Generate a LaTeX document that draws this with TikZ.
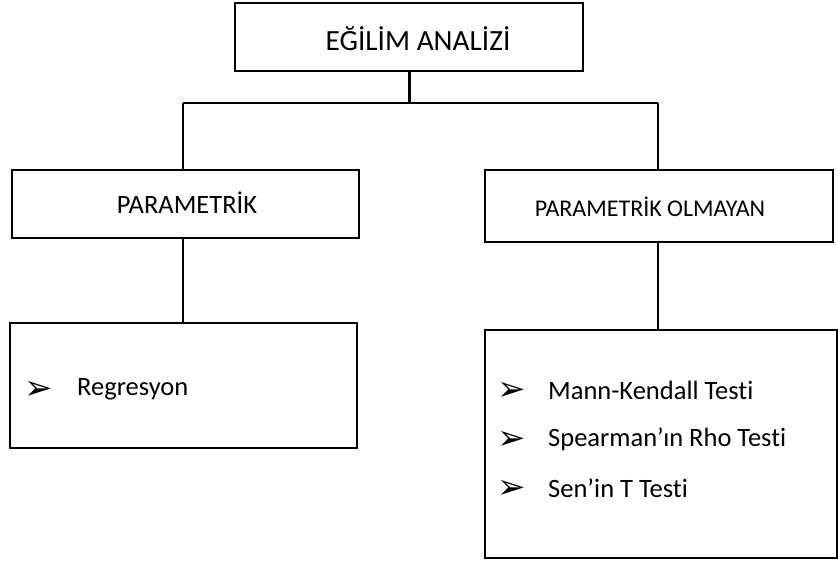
\documentclass[tikz,border=0pt]{standalone}
\usepackage{fontspec}
\setmainfont{Carlito}[Ligatures=NoCommon]
\newfontfamily\bulfont{DejaVu Sans}
\tikzset{
  box/.style={draw, line width=2pt, rectangle, inner sep=0pt},
  conn/.style={draw, line width=1.4pt},
  title/.style={font=\fontsize{29.3}{34}\selectfont},
  lbl/.style={font=\fontsize{26.5}{30}\selectfont},
  lbls/.style={font=\fontsize{24}{28}\selectfont},
  itm/.style={font=\fontsize{26.5}{30}\selectfont, anchor=west, inner sep=0pt},
  bul/.style={font=\bulfont\fontsize{34}{38}\selectfont, anchor=center, inner sep=0pt}
}
\begin{document}
\begin{tikzpicture}[x=1pt,y=-1pt]
\useasboundingbox (0,0) rectangle (838,560);
% boxes
\node[box, minimum width=348pt, minimum height=68pt] (top) at (409,37) {};
\node[title] (toptxt) at (418,39) {EĞİLİM ANALİZİ};
\node[box, minimum width=347pt, minimum height=68pt] (par) at (185.5,204) {};
\node[lbl] (partxt) at (187,203) {PARAMETRİK};
\node[box, minimum width=348pt, minimum height=72pt] (npar) at (658.5,206) {};
\node[lbls] (npartxt) at (650,207) {PARAMETRİK OLMAYAN};
\node[box, minimum width=347pt, minimum height=125pt] (plist) at (183.5,385.5) {};
\node[box, minimum width=352pt, minimum height=228pt] (nlist) at (661,444) {};
% connectors
\coordinate (jn) at (409,103);
\coordinate (jl) at (183,103);
\coordinate (jr) at (658,103);
\draw[line width=3pt] (top.south -| jn) -- (jn);
\draw[conn] (jl) -- (jr);
\draw[conn] (jl) -- (jl |- par.north);
\draw[conn] (jr) -- (jr |- npar.north);
\draw[conn] (par.south -| jl) -- (plist.north -| jl);
\draw[conn] (npar.south -| jr) -- (nlist.north -| jr);
% list items
\node[bul] (b1) at (39,390.5) {➢};
\node[itm] (i1) at (77,389) {Regresyon};
\node[bul] (b2) at (512,391.5) {➢};
\node[itm] (i2) at (548,390) {Mann-Kendall Testi};
\node[bul] (b3) at (512,440.5) {➢};
\node[itm] (i3) at (548,439) {Spearman’ın Rho Testi};
\node[bul] (b4) at (512,489.5) {➢};
\node[itm] (i4) at (548,488) {Sen’in T Testi};
\end{tikzpicture}
\end{document}
